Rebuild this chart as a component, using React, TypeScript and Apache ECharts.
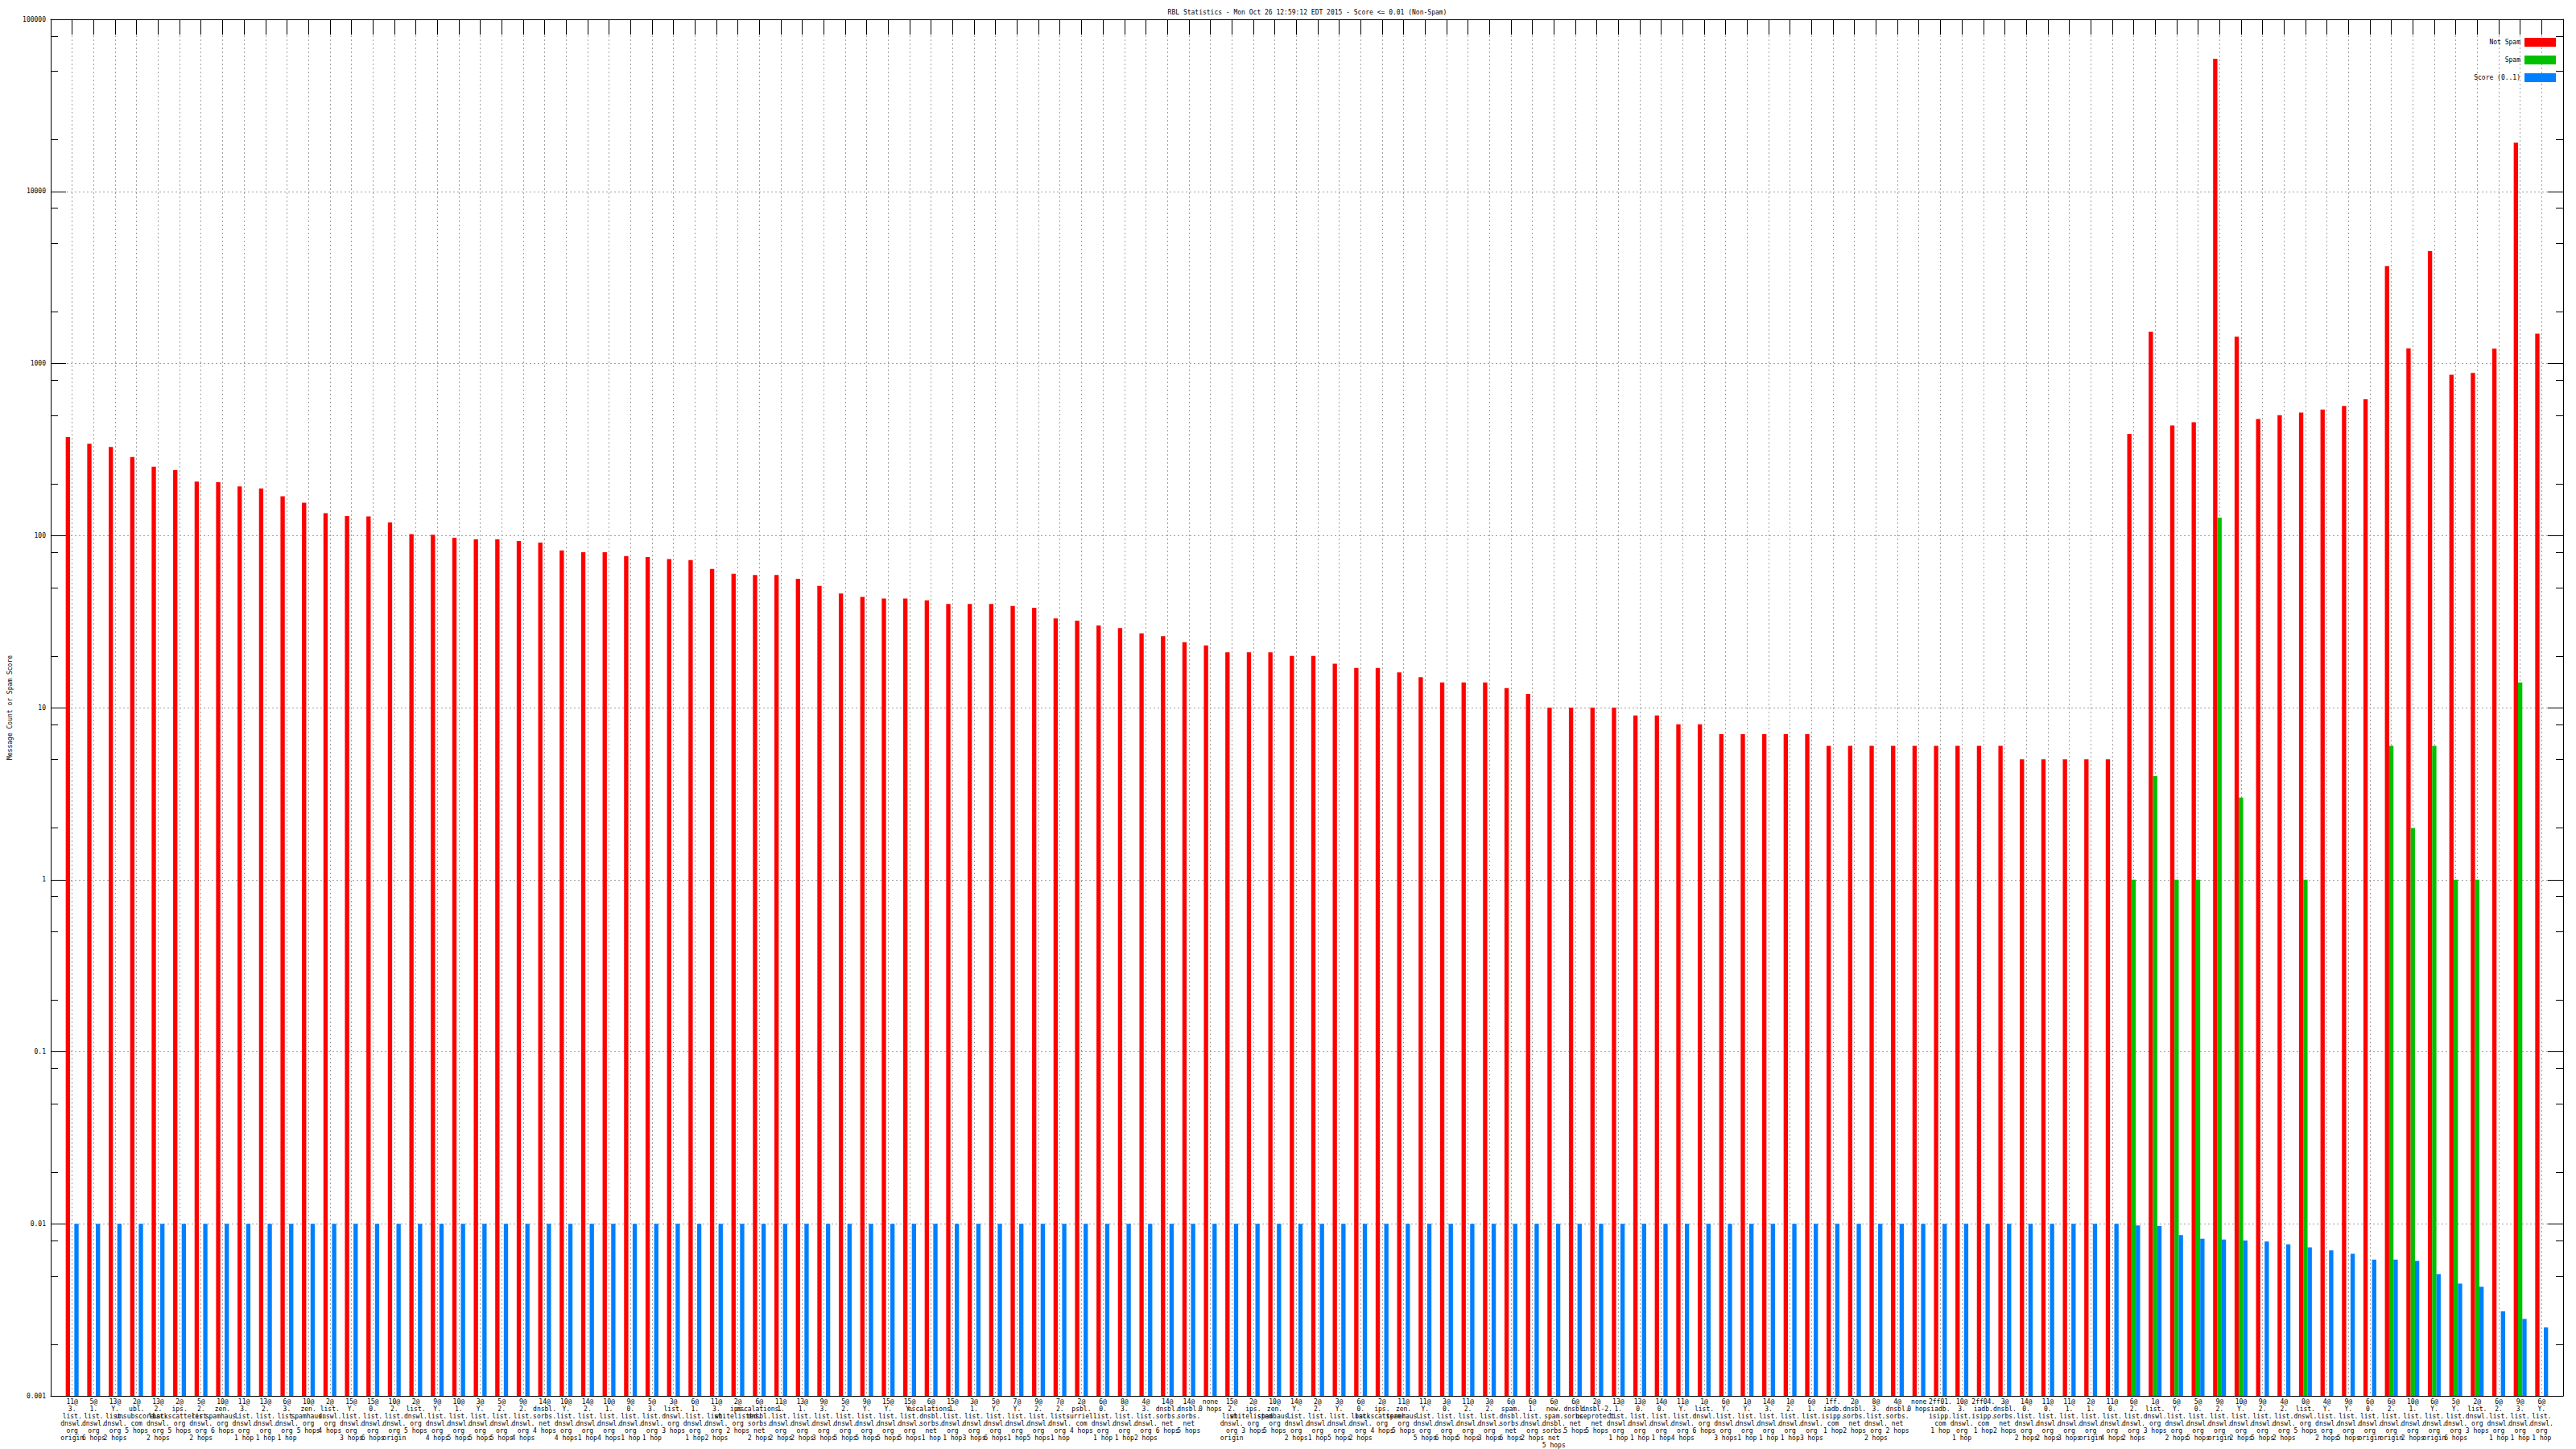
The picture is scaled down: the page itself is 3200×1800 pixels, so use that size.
import React, { useEffect, useRef } from 'react';
import * as echarts from 'echarts';

const titleText = 'RBL Statistics - Mon Oct 26 12:59:12 EDT 2015 - Score <= 0.01 (Non-Spam)';

const categories = [
  '11@3.list.dnswl.org origin', '5@1.list.dnswl.org 6 hops', '13@Y.list.dnswl.org 2 hops', '2@ubl.unsubscore.com 5 hops',
  '13@2.list.dnswl.org 2 hops', '2@ips.backscatterer.org 5 hops', '5@2.list.dnswl.org 2 hops', '10@zen.spamhaus.org 6 hops',
  '11@3.list.dnswl.org 1 hop', '13@2.list.dnswl.org 1 hop', '6@3.list.dnswl.org 1 hop', '10@zen.spamhaus.org 5 hops',
  '2@list.dnswl.org 4 hops', '15@Y.list.dnswl.org 3 hops', '15@0.list.dnswl.org 6 hops', '10@2.list.dnswl.org origin',
  '2@list.dnswl.org 5 hops', '9@Y.list.dnswl.org 4 hops', '10@1.list.dnswl.org 5 hops', '3@Y.list.dnswl.org 5 hops',
  '5@2.list.dnswl.org 5 hops', '9@2.list.dnswl.org 4 hops', '14@dnsbl.sorbs.net 4 hops', '10@Y.list.dnswl.org 4 hops',
  '14@2.list.dnswl.org 1 hop', '10@1.list.dnswl.org 4 hops', '9@0.list.dnswl.org 1 hop', '5@3.list.dnswl.org 1 hop',
  '3@list.dnswl.org 3 hops', '6@1.list.dnswl.org 1 hop', '11@3.list.dnswl.org 2 hops', '2@ips.whitelisted.org 2 hops',
  '6@escalations.dnsbl.sorbs.net 2 hops', '11@1.list.dnswl.org 2 hops', '13@1.list.dnswl.org 2 hops', '9@3.list.dnswl.org 3 hops',
  '5@2.list.dnswl.org 5 hops', '9@Y.list.dnswl.org 5 hops', '15@Y.list.dnswl.org 5 hops', '15@Y.list.dnswl.org 5 hops',
  '6@escalations.dnsbl.sorbs.net 1 hop', '15@1.list.dnswl.org 1 hop', '3@1.list.dnswl.org 3 hops', '5@Y.list.dnswl.org 6 hops',
  '7@Y.list.dnswl.org 1 hop', '9@2.list.dnswl.org 5 hops', '7@2.list.dnswl.org 1 hop', '2@psbl.surriel.com 4 hops',
  '6@0.list.dnswl.org 1 hop', '8@3.list.dnswl.org 1 hop', '4@3.list.dnswl.org 2 hops', '14@dnsbl.sorbs.net 6 hops',
  '14@dnsbl.sorbs.net 5 hops', 'none 0 hops', '15@2.list.dnswl.org origin', '2@ips.whitelisted.org 3 hops',
  '10@zen.spamhaus.org 5 hops', '14@Y.list.dnswl.org 2 hops', '2@2.list.dnswl.org 1 hop', '3@Y.list.dnswl.org 5 hops',
  '6@0.list.dnswl.org 2 hops', '2@ips.backscatterer.org 4 hops', '11@zen.spamhaus.org 5 hops', '11@Y.list.dnswl.org 5 hops',
  '3@0.list.dnswl.org 6 hops', '11@2.list.dnswl.org 5 hops', '3@2.list.dnswl.org 3 hops', '6@spam.dnsbl.sorbs.net 6 hops',
  '6@1.list.dnswl.org 2 hops', '6@new.spam.dnsbl.sorbs.net 5 hops', '6@dnsbl.sorbs.net 5 hops', '2@dnsbl-2.uceprotect.net 5 hops',
  '13@1.list.dnswl.org 1 hop', '13@0.list.dnswl.org 1 hop', '14@0.list.dnswl.org 1 hop', '11@Y.list.dnswl.org 4 hops',
  '1@list.dnswl.org 6 hops', '6@Y.list.dnswl.org 3 hops', '1@Y.list.dnswl.org 1 hop', '14@3.list.dnswl.org 1 hop',
  '1@2.list.dnswl.org 1 hop', '6@1.list.dnswl.org 3 hops', '1ff.iadb.isipp.com 1 hop', '2@dnsbl.sorbs.net 2 hops',
  '8@3.list.dnswl.org 2 hops', '4@dnsbl.sorbs.net 2 hops', 'none 0 hops', '2ff01.iadb.isipp.com 1 hop',
  '10@3.list.dnswl.org 1 hop', '2ff04.iadb.isipp.com 1 hop', '3@dnsbl.sorbs.net 2 hops', '14@0.list.dnswl.org 2 hops',
  '11@0.list.dnswl.org 2 hops', '11@1.list.dnswl.org 3 hops', '2@1.list.dnswl.org origin', '11@0.list.dnswl.org 4 hops',
  '6@2.list.dnswl.org 2 hops', '1@list.dnswl.org 3 hops', '6@Y.list.dnswl.org 2 hops', '5@0.list.dnswl.org 5 hops',
  '9@2.list.dnswl.org origin', '10@Y.list.dnswl.org 2 hops', '9@2.list.dnswl.org 5 hops', '4@2.list.dnswl.org 2 hops',
  '0@list.dnswl.org 5 hops', '4@Y.list.dnswl.org 2 hops', '9@Y.list.dnswl.org 5 hops', '6@0.list.dnswl.org origin',
  '6@2.list.dnswl.org origin', '10@1.list.dnswl.org 2 hops', '6@Y.list.dnswl.org origin', '5@Y.list.dnswl.org 6 hops',
  '2@list.dnswl.org 3 hops', '6@2.list.dnswl.org 1 hop', '9@3.list.dnswl.org 1 hop', '6@Y.list.dnswl.org 1 hop',
];

const notSpam = [
  373, 341, 327, 286, 251, 240, 206, 204, 193, 188, 169, 155, 135, 130, 129, 119,
  102, 101, 97, 95, 95, 93, 91, 82, 80, 80, 76, 75, 73, 72, 64, 60,
  59, 59, 56, 51, 46, 44, 43, 43, 42, 40, 40, 40, 39, 38, 33, 32, 30, 29,
  27, 26, 24, 23, 21, 21, 21, 20, 20, 18, 17, 17, 16, 15, 14, 14, 14, 13, 12,
  10, 10, 10, 10, 9, 9, 8, 8, 7, 7, 7, 7, 7,
  6, 6, 6, 6, 6, 6, 6, 6, 6,
  5, 5, 5, 5, 5,
  390, 1530, 436, 455, 59000, 1430, 475, 500, 519, 540, 567, 620, 3680, 1225, 4490, 861, 880, 1220, 19200, 1490,
];

const spam = [
  null, null, null, null, null, null, null, null, null, null, null, null, null, null, null, null,
  null, null, null, null, null, null, null, null, null, null, null, null, null, null, null, null,
  null, null, null, null, null, null, null, null, null, null, null, null, null, null, null, null, null, null,
  null, null, null, null, null, null, null, null, null, null, null, null, null, null, null, null, null, null, null,
  null, null, null, null, null, null, null, null, null, null, null, null, null,
  null, null, null, null, null, null, null, null, null,
  null, null, null, null, null,
  1, 4, 1, 1, 127, 3, null, null, 1, null, null, null, 6, 2, 6, 1, 1, null, 14, null,
];

const score = [
  0.01, 0.01, 0.01, 0.01, 0.01, 0.01, 0.01, 0.01, 0.01, 0.01, 0.01, 0.01, 0.01, 0.01, 0.01, 0.01,
  0.01, 0.01, 0.01, 0.01, 0.01, 0.01, 0.01, 0.01, 0.01, 0.01, 0.01, 0.01, 0.01, 0.01, 0.01, 0.01,
  0.01, 0.01, 0.01, 0.01, 0.01, 0.01, 0.01, 0.01, 0.01, 0.01, 0.01, 0.01, 0.01, 0.01, 0.01, 0.01, 0.01, 0.01,
  0.01, 0.01, 0.01, 0.01, 0.01, 0.01, 0.01, 0.01, 0.01, 0.01, 0.01, 0.01, 0.01, 0.01, 0.01, 0.01, 0.01, 0.01, 0.01,
  0.01, 0.01, 0.01, 0.01, 0.01, 0.01, 0.01, 0.01, 0.01, 0.01, 0.01, 0.01, 0.01,
  0.01, 0.01, 0.01, 0.01, 0.01, 0.01, 0.01, 0.01, 0.01,
  0.01, 0.01, 0.01, 0.01, 0.01,
  0.0098, 0.0097, 0.0086, 0.0082, 0.0081, 0.008, 0.0079, 0.0076, 0.0073, 0.007,
  0.0067, 0.0062, 0.0062, 0.0061, 0.0051, 0.0045, 0.0043, 0.0031, 0.0028, 0.0025,
];

const seriesNames = ['Not Spam', 'Spam', 'Score (0..1)'];
const seriesColors = ['#ff0000', '#00c000', '#0080ff'];
const yTickLabels = ['0.001', '0.01', '0.1', '1', '10', '100', '1000', '10000', '100000'];
const minorTickValues = [
  0.002, 0.005, 0.008, 0.02, 0.05, 0.08, 0.2, 0.5, 0.8, 2, 5, 8,
  20, 50, 80, 200, 500, 800, 2000, 5000, 8000, 20000, 50000, 80000,
];

const FONT = 'DejaVu Sans Mono';

export default function App() {
  const ref = useRef<HTMLDivElement>(null);

  useEffect(() => {
    if (!ref.current) return;
    const chart = echarts.init(ref.current, null, { renderer: 'svg' });
    const cats = ['', ...categories, ''];
    const pad = (arr: (number | null)[]) => [null, ...arr, null];
    const gridLine = { color: '#a0a0a0', width: 1, type: [2, 3] as any };
    const black = { color: '#000', width: 1 };

    const option: any = {
      animation: false,
      backgroundColor: '#ffffff',
      textStyle: { fontFamily: FONT },
      title: {
        text: titleText,
        left: 1619,
        top: 6,
        textAlign: 'center',
        textStyle: { fontFamily: FONT, fontSize: 8, fontWeight: 'normal', color: '#000' },
      },
      legend: {
        data: seriesNames,
        orient: 'vertical',
        right: 25,
        top: 47,
        align: 'right',
        icon: 'rect',
        itemWidth: 39,
        itemHeight: 11,
        itemGap: 11,
        padding: 0,
        textStyle: { fontFamily: FONT, fontSize: 8, color: '#000' },
      },
      grid: { left: 55, right: 16, top: 24, bottom: 65, containLabel: false },
      xAxis: [
        {
          type: 'category',
          data: cats,
          boundaryGap: false,
          position: 'bottom',
          axisLine: { show: true, lineStyle: black },
          axisTick: { show: false },
          splitLine: { show: true, interval: 0, lineStyle: gridLine },
          axisLabel: {
            interval: 0,
            fontFamily: FONT,
            fontSize: 8,
            lineHeight: 9,
            color: '#000',
            margin: 3,
            formatter: (s: string) =>
              s ? s.replace('@', '@\n').replace(/\./g, '.\n').replace(' ', '\n') : '',
          },
        },
        {
          type: 'category',
          data: cats,
          boundaryGap: false,
          position: 'top',
          axisLine: { show: true, lineStyle: black },
          axisTick: { show: true, inside: true, length: 19, interval: 0, lineStyle: black },
          axisLabel: { show: false },
          splitLine: { show: false },
        },
      ],
      yAxis: [
        {
          type: 'log',
          logBase: 10,
          min: 0.001,
          max: 100000,
          startValue: 0.001,
          position: 'left',
          name: 'Message Count or Spam Score',
          nameLocation: 'middle',
          nameGap: 47,
          nameTextStyle: { fontFamily: FONT, fontSize: 8, color: '#000' },
          axisLine: { show: true, lineStyle: black },
          axisTick: { show: true, inside: true, length: 19, lineStyle: black },
          axisLabel: {
            fontFamily: FONT,
            fontSize: 8,
            color: '#000',
            margin: 6,
            formatter: (v: number) => yTickLabels[Math.round(Math.log10(v)) + 3] ?? '',
          },
          splitLine: { show: true, lineStyle: gridLine },
        },
        {
          type: 'log',
          logBase: 10,
          min: 0.001,
          max: 100000,
          position: 'right',
          axisLine: { show: true, lineStyle: black },
          axisTick: { show: true, inside: true, length: 19, lineStyle: black },
          axisLabel: { show: false },
          splitLine: { show: false },
        },
      ],
      series: [
        ...[notSpam, spam, score].map((d, i) => ({
          name: seriesNames[i],
          type: 'bar',
          xAxisIndex: 0,
          yAxisIndex: 0,
          data: pad(d),
          barGap: '0%',
          barCategoryGap: '40%',
          itemStyle: { color: seriesColors[i] },
        })),
        {
          name: 'minor',
          type: 'custom',
          xAxisIndex: 0,
          yAxisIndex: 0,
          silent: true,
          z: 5,
          data: minorTickValues.map((v) => [1, v]),
          renderItem: (params: any, api: any) => {
            const cs = params.coordSys;
            const y = Math.round(api.coord([1, api.value(1)])[1]) + 0.5;
            return {
              type: 'group',
              children: [
                { type: 'line', shape: { x1: cs.x, y1: y, x2: cs.x + 9, y2: y }, style: { stroke: '#000', lineWidth: 1 } },
                { type: 'line', shape: { x1: cs.x + cs.width - 9, y1: y, x2: cs.x + cs.width, y2: y }, style: { stroke: '#000', lineWidth: 1 } },
              ],
            };
          },
        },
      ],
    };
    chart.setOption(option);
    return () => chart.dispose();
  }, []);

  return (
    <div
      ref={ref}
      style={{ position: 'absolute', left: 0, top: 0, width: 3200, height: 1800, background: '#fff' }}
    />
  );
}
